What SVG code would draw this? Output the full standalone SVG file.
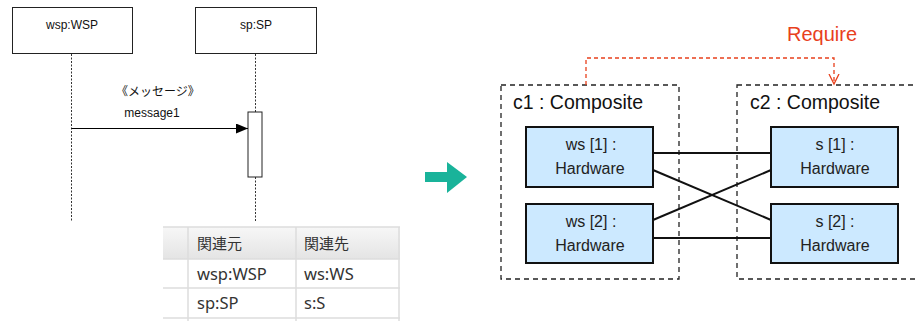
<svg xmlns="http://www.w3.org/2000/svg" width="917" height="321" viewBox="0 0 917 321">
<defs>
<style>
.seq{fill:#fff;stroke:#222;stroke-width:1}
.life{stroke:#333;stroke-width:1;stroke-dasharray:2,1.5;fill:none}
.st{font-family:"Liberation Sans","Noto Sans CJK JP",sans-serif;font-size:12px;fill:#111}
.tt{font-family:"Noto Sans CJK JP","Liberation Sans",sans-serif;font-size:15px;fill:#333}
.tn{font-family:"Noto Sans","Liberation Sans",sans-serif;font-size:16.5px;fill:#333}
.tl{stroke:#dcdcdc;stroke-width:1.5}
.comp{fill:none;stroke:#222;stroke-width:1.3;stroke-dasharray:5,4}
.hw{fill:#cce9ff;stroke:#111;stroke-width:2}
.ht{font-family:"Liberation Sans",Arial,sans-serif;font-size:16px;fill:#222;text-anchor:middle}
.ct{font-family:"Liberation Sans",Arial,sans-serif;font-size:19.5px;fill:#111}
.conn{stroke:#111;stroke-width:2;fill:none}
</style>
<linearGradient id="hdr" x1="0" y1="0" x2="0" y2="1">
<stop offset="0" stop-color="#f7f7f7"/>
<stop offset="1" stop-color="#e4e4e4"/>
</linearGradient>
<marker id="ah" markerWidth="12" markerHeight="10" refX="12" refY="5" orient="auto" markerUnits="userSpaceOnUse">
<path d="M0,0 L12,5 L0,10 Z" fill="#000"/>
</marker>
<marker id="ra" markerWidth="12" markerHeight="12" refX="10" refY="6" orient="auto" markerUnits="userSpaceOnUse">
<path d="M0,1 L10,6 L0,11" fill="none" stroke="#e8401c" stroke-width="1.3"/>
</marker>
</defs>

<g id="seq-wsp">
<rect class="seq" x="12.5" y="7.5" width="120" height="46"/>
<text class="st" x="72" y="29" text-anchor="middle">wsp:WSP</text>
<line class="life" x1="71.5" y1="54" x2="71.5" y2="222"/>
</g>
<g id="seq-sp">
<rect class="seq" x="195.5" y="7.5" width="121" height="46"/>
<text class="st" x="256" y="29" text-anchor="middle">sp:SP</text>
<line class="life" x1="255.5" y1="54" x2="255.5" y2="112"/>
<line class="life" x1="255.5" y1="177" x2="255.5" y2="222"/>
<rect class="seq" x="248" y="112" width="14" height="65" stroke-width="1.3"/>
</g>
<g id="seq-connectors">
<line x1="71.5" y1="128.5" x2="248" y2="128.5" stroke="#000" stroke-width="1.2" marker-end="url(#ah)"/>
<text class="st" x="158" y="96" text-anchor="middle">《メッセージ》</text>
<text class="st" x="152" y="117" text-anchor="middle">message1</text>
</g>

<g id="table">
<rect x="163" y="227" width="237" height="32" fill="url(#hdr)"/>
<line class="tl" x1="163" y1="227" x2="400" y2="227" stroke="#c8c8c8"/>
<line class="tl" x1="163" y1="259" x2="400" y2="259"/>
<line class="tl" x1="163" y1="288" x2="400" y2="288"/>
<line class="tl" x1="163" y1="318" x2="400" y2="318"/>
<line class="tl" x1="188" y1="227" x2="188" y2="321"/>
<line class="tl" x1="296" y1="227" x2="296" y2="321"/>
<line class="tl" x1="399" y1="227" x2="399" y2="321"/>
<text class="tt" x="197" y="249">関連元</text>
<text class="tt" x="304" y="249">関連先</text>
<text class="tn" x="197" y="280">wsp:WSP</text>
<text class="tn" x="304" y="280">ws:WS</text>
<text class="tn" x="197" y="309">sp:SP</text>
<text class="tn" x="304" y="309">s:S</text>
</g>

<g id="big-arrow">
<path d="M425,172 H447 V162 L467,177 L447,193 V182 H425 Z" fill="#19b39a"/>
</g>

<g id="c1">
<rect class="comp" x="501" y="85" width="178" height="194"/>
<text class="ct" x="513" y="109">c1 : Composite</text>
</g>
<g id="c2">
<rect class="comp" x="737" y="85" width="190" height="194"/>
<text class="ct" x="750" y="109">c2 : Composite</text>
</g>
<g id="ws1">
<rect class="hw" x="526" y="127" width="127" height="60"/>
<text class="ht" x="591" y="150" xml:space="preserve">ws [1] :</text>
<text class="ht" x="590" y="174">Hardware</text>
</g>
<g id="ws2">
<rect class="hw" x="526" y="204" width="127" height="59"/>
<text class="ht" x="591" y="227">ws [2] :</text>
<text class="ht" x="590" y="251">Hardware</text>
</g>
<g id="s1">
<rect class="hw" x="771" y="127" width="127" height="60"/>
<text class="ht" x="835" y="150">s [1] :</text>
<text class="ht" x="835" y="174">Hardware</text>
</g>
<g id="s2">
<rect class="hw" x="771" y="204" width="127" height="59"/>
<text class="ht" x="835" y="227">s [2] :</text>
<text class="ht" x="835" y="251">Hardware</text>
</g>

<g id="connectors">
<line class="conn" x1="653" y1="153" x2="771" y2="153"/>
<line class="conn" x1="653" y1="170" x2="771" y2="220"/>
<line class="conn" x1="653" y1="220" x2="771" y2="170"/>
<line class="conn" x1="653" y1="238" x2="771" y2="238"/>
<path d="M586,85 V58 H834 V84" fill="none" stroke="#e8401c" stroke-width="1.3" stroke-dasharray="4,3" marker-end="url(#ra)"/>
<text x="822" y="41" font-family="'Liberation Sans',Arial,sans-serif" font-size="20" fill="#e8401c" text-anchor="middle">Require</text>
</g>
</svg>
